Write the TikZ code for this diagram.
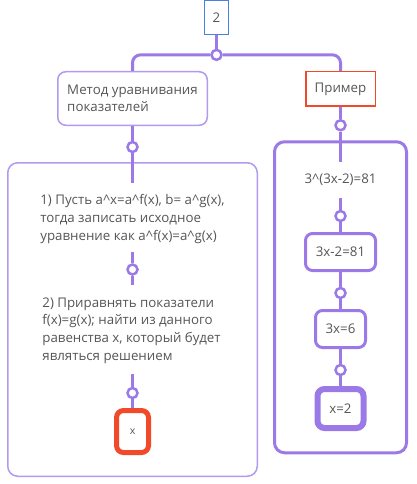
\documentclass[tikz,border=0pt]{standalone}
\usepackage{fontspec}
\setmainfont{Open Sans}
\usepackage{tikz}
\usetikzlibrary{positioning}

\definecolor{lilac}{RGB}{155,122,232}
\definecolor{palelilac}{RGB}{178,154,240}
\definecolor{tomato}{RGB}{240,74,42}
\definecolor{skyblue}{RGB}{74,128,224}
\definecolor{ink}{RGB}{85,85,85}

\begin{document}
\begin{tikzpicture}[
    x=1pt, y=1pt,
    font=\fontsize{13.3}{17.6}\selectfont,
    every node/.style={text=ink},
    numbox/.style={rectangle, draw=skyblue, line width=1.2pt, minimum width=24pt, minimum height=34pt, inner sep=0pt},
    topic/.style={rectangle, rounded corners=8pt, draw=palelilac, line width=1.5pt, minimum width=149.5pt, minimum height=53.5pt, align=left, inner sep=0pt},
    sample/.style={rectangle, draw=tomato, line width=1.5pt, minimum width=69.5pt, minimum height=34.5pt, inner sep=0pt},
    leftframe/.style={rectangle, rounded corners=10pt, draw=palelilac, line width=1.5pt, minimum width=249.5pt, minimum height=313.5pt},
    rightframe/.style={rectangle, rounded corners=10pt, draw=lilac, line width=3pt, minimum width=132pt, minimum height=311pt},
    stepnote/.style={align=left, inner sep=0pt},
    eqbox/.style={rectangle, rounded corners=7pt, draw=lilac, line width=3pt, minimum height=37pt, inner sep=0pt},
    result/.style={rectangle, rounded corners=7pt, draw=lilac, line width=6pt, minimum width=46pt, minimum height=39pt, inner sep=0pt},
    answer/.style={rectangle, rounded corners=7pt, draw=tomato, line width=5pt, minimum width=32pt, minimum height=42pt, inner sep=0pt, font=\fontsize{10.5}{12}\selectfont},
    junction/.style={circle, draw=lilac, fill=white, line width=2.5pt, minimum size=10pt, inner sep=0pt},
    conn/.style={draw=lilac, line width=3pt}
]
    \useasboundingbox (0,0) rectangle (417,-484);

    % Top
    \node [numbox] (two) at (216.5,-17.5) {2};
    \node [junction, below=13.5pt of two] (j0) {};
    \node [topic] (method) at (132.5,-98.5) {Метод уравнивания\\показателей};
    \node [sample] (example) at (340.5,-89) {Пример};

    % Left branch
    \node [junction, below=14.75pt of method] (jm) {};
    \node [leftframe, below=8.75pt of jm] (leftbox) {};
    \coordinate [below=21pt of leftbox.north] (m1);
    \node [stepnote] (step1) at (132.5,-219) {1) Пусть a\textasciicircum x=a\textasciicircum f(x), b= a\textasciicircum g(x),\\тогда записать исходное\\уравнение как a\textasciicircum f(x)=a\textasciicircum g(x)};
    \coordinate (s1) at (132.5,-252);
    \node [junction, below=11.25pt of s1] (j1) {};
    \coordinate [below=9.25pt of j1] (s2);
    \node [stepnote] (step2) at (131.5,-330.5) {2) Приравнять показатели\\f(x)=g(x); найти из данного\\равенства x, который будет\\являться решением};
    \coordinate (s3) at (132.5,-374);
    \node [junction, below=12.75pt of s3] (j2) {};
    \node [answer, below=8.75pt of j2] (xbox) {x};

    % Right branch
    \node [junction, below=12pt of example] (je) {};
    \node [rightframe, below=8.75pt of je] (rightbox) {};
    \coordinate [below=22pt of rightbox.north] (e1);
    \node [stepnote] (eq0) at (340.5,-180) {3\textasciicircum(3x-2)=81};
    \coordinate (r1) at (340.5,-198);
    \node [junction, below=11.75pt of r1] (jr1) {};
    \node [eqbox, minimum width=70pt, below=9.75pt of jr1] (eq1) {3x-2=81};
    \node [junction, below=14.75pt of eq1] (jr2) {};
    \node [eqbox, minimum width=50pt, below=9.75pt of jr2] (eq2) {3x=6};
    \node [junction, below=14.75pt of eq2] (jr3) {};
    \node [result, below=9.75pt of jr3] (eq3) {x=2};

    % Connectors
    \draw [conn] (two) -- (j0);
    \draw [conn, rounded corners=8pt] (j0) -| (method);
    \draw [conn, rounded corners=8pt] (j0) -| (example);
    \draw [conn] (method) -- (jm) -- (m1);
    \draw [conn] (s1) -- (j1) -- (s2);
    \draw [conn] (s3) -- (j2) -- (xbox);
    \draw [conn] (example) -- (je) -- (e1);
    \draw [conn] (r1) -- (jr1) -- (eq1) -- (jr2) -- (eq2) -- (jr3) -- (eq3);
\end{tikzpicture}
\end{document}
